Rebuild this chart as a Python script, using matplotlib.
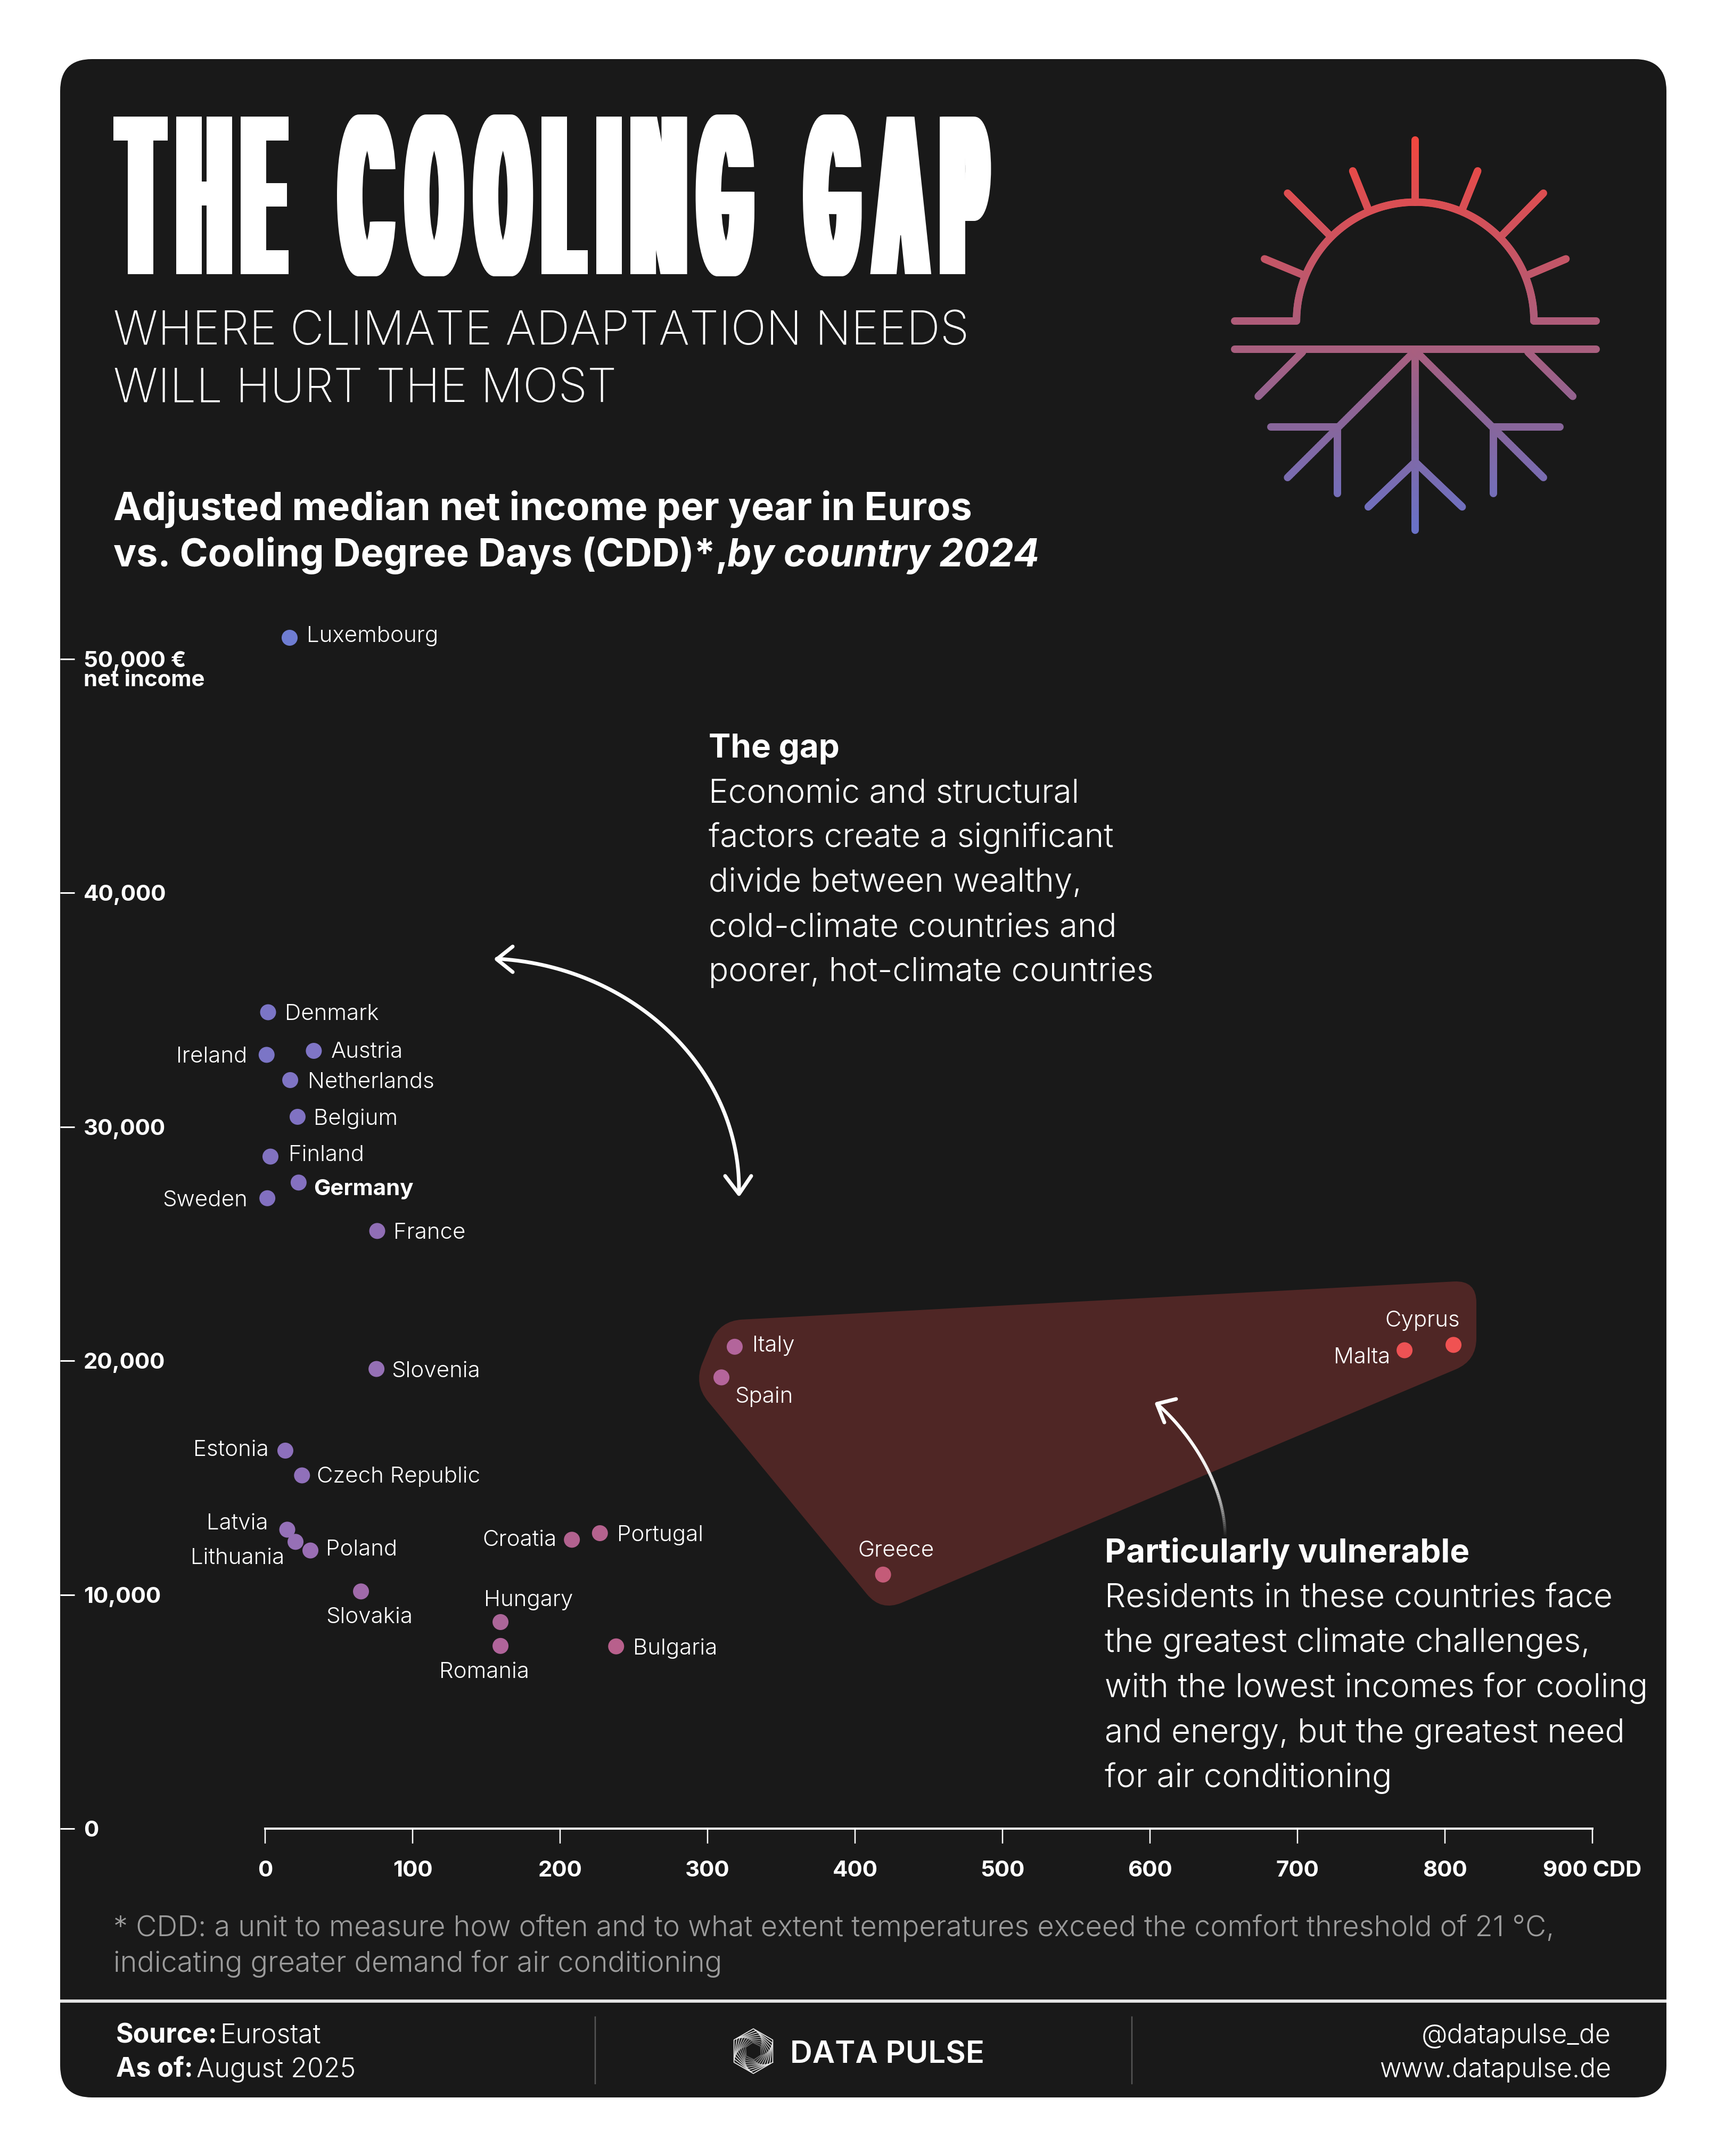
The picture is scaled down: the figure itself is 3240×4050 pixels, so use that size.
from matplotlib import pyplot as plt
from matplotlib import patheffects as pe
from matplotlib.collections import LineCollection
from matplotlib.colors import LinearSegmentedColormap
from matplotlib.patches import FancyBboxPatch, PathPatch
from matplotlib.path import Path
from matplotlib.transforms import IdentityTransform
import numpy as np

plt.rcParams['font.family'] = ['Inter', 'DejaVu Sans']

countries = ['Luxembourg', 'Denmark', 'Ireland', 'Austria', 'Netherlands', 'Belgium', 'Finland',
             'Germany', 'Sweden', 'France', 'Slovenia', 'Estonia', 'Czech Republic', 'Latvia',
             'Lithuania', 'Poland', 'Slovakia', 'Croatia', 'Portugal', 'Hungary', 'Romania',
             'Bulgaria', 'Italy', 'Spain', 'Greece', 'Malta', 'Cyprus']
cdd = [16.6, 2, 1, 33, 17, 22, 3.6, 22.7, 1.5, 76, 75.5, 13.7, 25, 15, 20.6, 30.7, 65, 208, 227,
       159.6, 159.6, 238, 318.4, 309.4, 419, 772.6, 805.8]
income = [50910, 34900, 33080, 33250, 32000, 30430, 28730, 27620, 26950, 25550, 19650, 16160, 15100,
          12780, 12260, 11890, 10140, 12350, 12630, 8830, 7810, 7790, 20600, 19290, 10860, 20450, 20680]
dot_colors = ['#6f7dd2', '#7b75c6', '#7b75c6', '#7f75c6', '#7f74c4', '#8072c2', '#8172c0',
              '#8470c0', '#8270c0', '#906eb5', '#9570b5', '#8d70bb', '#9070ba', '#9570b8',
              '#9670b6', '#9a6eb4', '#a06aaa', '#b2628f', '#b5628e', '#ac6699', '#b0649a',
              '#b8608c', '#b3659b', '#b5659b', '#c45b78', '#ee5254', '#f05252']
# label offset from the dot in px: dx, dy (down), alignment
label_place = {
    'Luxembourg': (32, -7, 'left'), 'Denmark': (31, 0, 'left'), 'Ireland': (-36, 0, 'right'),
    'Austria': (32, -2, 'left'), 'Netherlands': (33, 0, 'left'), 'Belgium': (30, 0, 'left'),
    'Finland': (34, -7, 'left'), 'Germany': (28, 9, 'left'), 'Sweden': (-37, 0, 'right'),
    'France': (30, 0, 'left'), 'Slovenia': (28, 0, 'left'), 'Estonia': (-31, -5, 'right'),
    'Czech Republic': (28, -2, 'left'), 'Latvia': (-36, -15, 'right'), 'Lithuania': (-21, 27, 'right'),
    'Poland': (29, -6, 'left'), 'Slovakia': (16, 45, 'center'), 'Croatia': (-29, -3, 'right'),
    'Portugal': (32, 0, 'left'), 'Hungary': (53, -45, 'center'), 'Romania': (-31, 45, 'center'),
    'Bulgaria': (32, 0, 'left'), 'Italy': (33, -6, 'left'), 'Spain': (25, 33, 'left'),
    'Greece': (24, -49, 'center'), 'Malta': (-27, 10, 'right'), 'Cyprus': (12, -49, 'right'),
}
xticks = [0, 100, 200, 300, 400, 500, 600, 700, 800, 900]
xlabels = ['0', '100', '200', '300', '400', '500', '600', '700', '800', '900 CDD']
yticks = [0, 10000, 20000, 30000, 40000, 50000]
ylabels = ['0', '10,000', '20,000', '30,000', '40,000', '50,000 €']

gap_text = ['Economic and structural', 'factors create a significant', 'divide between wealthy,',
            'cold-climate countries and', 'poorer, hot-climate countries']
vuln_text = ['Residents in these countries face', 'the greatest climate challenges,',
             'with the lowest incomes for cooling', 'and energy, but the greatest need',
             'for air conditioning']

BG = '#191919'
PX = 72 / 100  # px to points at dpi 100


class CondensedGlyphs(pe.AbstractPathEffect):
    # squeezes the text and thickens the stems, the poster face is not installed
    def __init__(self, sx, sy, smear, gap, word_gap):
        super().__init__()
        self.sx, self.sy, self.smear, self.gap, self.word_gap = sx, sy, smear, gap, word_gap

    def draw_path(self, renderer, gc, tpath, affine, rgbFace=None):
        v = affine.transform(tpath.vertices)
        codes = tpath.codes
        x0, y0 = affine.get_matrix()[0, 2], affine.get_matrix()[1, 2]
        starts = list(np.where(codes == Path.MOVETO)[0]) + [len(codes)]
        parts = []
        for a, b in zip(starts[:-1], starts[1:]):
            keep = codes[a:b] != Path.CLOSEPOLY
            parts.append([v[a:b][keep][:, 0].min(), v[a:b][keep][:, 0].max(), [(a, b)]])
        parts.sort(key=lambda p: p[0])
        glyphs = [parts[0]]
        for p in parts[1:]:
            if p[0] < glyphs[-1][1]:
                glyphs[-1][1] = max(glyphs[-1][1], p[1])
                glyphs[-1][2] += p[2]
            else:
                glyphs.append(p)
        cursor = x0
        last = None
        for xmin, xmax, spans in glyphs:
            if last is not None:
                cursor += self.word_gap if xmin - last > 40 else self.gap
            last = xmax
            idx = np.concatenate([np.arange(a, b) for a, b in spans])
            gv = v[idx].copy()
            gv[:, 0] = cursor + (gv[:, 0] - xmin) * self.sx
            gv[:, 1] = y0 + (gv[:, 1] - y0) * self.sy
            for dx in np.linspace(0, self.smear, 12):
                renderer.draw_path(gc, Path(gv + [dx, 0], codes[idx]), IdentityTransform(), rgbFace)
            cursor += (xmax - xmin) * self.sx + self.smear


def rounded_polygon(corners, r):
    corners = np.array(corners, float)
    verts, codes = [], []
    n = len(corners)
    for i in range(n):
        p, a, b = corners[i], corners[i - 1], corners[(i + 1) % n]
        s = p + (a - p) / np.linalg.norm(a - p) * r
        e = p + (b - p) / np.linalg.norm(b - p) * r
        verts += [s, p, e]
        codes += [Path.LINETO if i else Path.MOVETO, Path.CURVE3, Path.CURVE3]
    verts.append(verts[0])
    codes.append(Path.CLOSEPOLY)
    return Path(verts, codes)


def cubic(p0, p1, p2, p3, n=80):
    t = np.linspace(0, 1, n)[:, None]
    p0, p1, p2, p3 = map(np.array, (p0, p1, p2, p3))
    return (1 - t) ** 3 * p0 + 3 * (1 - t) ** 2 * t * p1 + 3 * (1 - t) * t ** 2 * p2 + t ** 3 * p3


fig = plt.figure(figsize=(32.4, 40.5), dpi=100, facecolor='white')

# page layer in pixel coordinates
pg = fig.add_axes([0, 0, 1, 1], zorder=0)
pg.set_xlim(0, 3240)
pg.set_ylim(4050, 0)
pg.axis('off')
pg.add_patch(FancyBboxPatch((113, 111), 3017, 3829, boxstyle='round,pad=0,rounding_size=60',
                            fc=BG, ec='none'))
pg.add_patch(PathPatch(rounded_polygon([(1352, 2481), (2773, 2405), (2773, 2556), (1655, 3027), (1303, 2600)], 42),
                       fc='#4f2625', ec='none'))


def txt(x, y, s, size, weight=300, color='white', **kw):
    return pg.text(x, y, s, fontsize=size * PX, fontweight=weight, color=color, va='baseline', **kw)


# title block
t = txt(213, 515, 'THE COOLING GAP', 190, 600)
t.set_path_effects([CondensedGlyphs(0.64, 2.14, 32, 16, 91)])
txt(213, 647, 'WHERE CLIMATE ADAPTATION NEEDS', 88, 200)
txt(213, 755, 'WILL HURT THE MOST', 88, 200)
txt(213, 977, 'Adjusted median net income per year in Euros', 72, 700)
txt(213, 1064, 'vs. Cooling Degree Days (CDD)*,', 72, 700)
txt(1366, 1064, 'by country 2024', 72, 700, style='italic')

# sun and snowflake icon
icon_cmap = LinearSegmentedColormap.from_list('icon', [(0, '#f2473f'), (0.45, '#b05c78'), (0.55, '#a85f80'),
                                                       (0.72, '#8a6598'), (1, '#6a72c8')])


def icon_line(pts):
    pts = np.array(pts, float)
    seg_t = np.linspace(0, 1, 60)[:, None]
    all_pts = np.vstack([pts[i] + (pts[i + 1] - pts[i]) * seg_t for i in range(len(pts) - 1)])
    draw_icon(all_pts)


def draw_icon(z):
    xy = np.column_stack([2250 + z[:, 0] * 0.5102, 220 + z[:, 1] * 0.5102])
    segs = np.stack([xy[:-1], xy[1:]], axis=1)
    cols = icon_cmap((z[:-1, 1] - 85) / (1520 - 85))
    pg.add_collection(LineCollection(segs, colors=cols, linewidths=14 * PX, capstyle='round'))


a = np.linspace(np.pi, 0, 200)
draw_icon(np.column_stack([800 + 437 * np.cos(a), 750 - 437 * np.sin(a)]))
for line in [[(800, 85), (800, 310)], [(570, 198), (625, 335)], [(1030, 198), (975, 335)],
             [(330, 280), (485, 435)], [(1272, 280), (1120, 435)], [(245, 522), (385, 580)],
             [(1355, 522), (1218, 580)], [(135, 750), (363, 750)], [(1237, 750), (1467, 750)],
             [(135, 855), (1467, 855)], [(800, 860), (800, 1520)], [(800, 860), (330, 1327)],
             [(800, 860), (1272, 1327)], [(385, 865), (222, 1028)], [(1215, 865), (1380, 1028)],
             [(268, 1141), (513, 1141), (513, 1385)], [(1333, 1141), (1088, 1141), (1088, 1385)],
             [(627, 1435), (800, 1270), (973, 1435)]]:
    icon_line(line)

# annotation texts
txt(1331, 1423, 'The gap', 62, 700)
for i, s in enumerate(gap_text):
    txt(1331, 1507 + i * 84, s, 62, 300)
txt(2075, 2935, 'Particularly vulnerable', 62, 700)
for i, s in enumerate(vuln_text):
    txt(2075, 3019 + i * 84.5, s, 62, 300)

# arrows
white_line = dict(color='white', lw=7 * PX, solid_capstyle='round', solid_joinstyle='round')
curve = cubic((933, 1801), (1190, 1815), (1392, 2010), (1388, 2240))
pg.plot(curve[:, 0], curve[:, 1], **white_line)
pg.plot([963, 933, 963], [1778, 1802, 1826], **white_line)
pg.plot([1362, 1388, 1411], [2209, 2243, 2209], **white_line)

curve = cubic((2173, 2637), (2235, 2690), (2301, 2790), (2301, 2885))
segs = np.stack([curve[:-1], curve[1:]], axis=1)
alpha = np.clip((curve[:-1, 1] - 2885) / (2690 - 2885), 0, 1)
cols = np.column_stack([np.ones((len(alpha), 3)), alpha])
pg.add_collection(LineCollection(segs, colors=cols, linewidths=6 * PX, capstyle='round'))
pg.plot([2209, 2173, 2187], [2628, 2637, 2672], **white_line)

# footnote and footer
txt(213, 3637, '* CDD: a unit to measure how often and to what extent temperatures exceed the comfort threshold of 21 °C,',
    54, 300, '#9c9c9c')
txt(213, 3704, 'indicating greater demand for air conditioning', 54, 300, '#9c9c9c')
pg.plot([113, 3130], [3759, 3759], color='#e4e4e4', lw=6 * PX, solid_capstyle='butt')
pg.plot([1118, 1118], [3789, 3914], color='#555555', lw=2.5 * PX)
pg.plot([2126, 2126], [3789, 3914], color='#555555', lw=2.5 * PX)
txt(218, 3838, 'Source:', 50, 700)
txt(413, 3838, 'Eurostat', 50, 300)
txt(218, 3902, 'As of:', 50, 700)
txt(369, 3902, 'August 2025', 50, 300)
txt(3026, 3838, '@datapulse_de', 50, 300, ha='right')
txt(3026, 3902, 'www.datapulse.de', 50, 300, ha='right')
txt(1484, 3875, 'DATA PULSE', 58, 600)

# logo mark: nested hexagons
for i in range(9):
    ang = np.radians(30 + np.arange(7) * 60 + i * 7)
    r = 42 - i * 3.2
    pg.plot(1415 + r * np.cos(ang), 3853 + r * np.sin(ang), color='white',
            alpha=0.9 - i * 0.07, lw=1.8 * PX)

# chart
x0_px, x900_px, y0_px, y50k_px = 498, 2991, 3435, 1238
x_scale = (x900_px - x0_px) / 900
y_scale = (y0_px - y50k_px) / 50000
top_px, left_px = 1000, 113
ax = fig.add_axes([left_px / 3240, 1 - y0_px / 4050, (x900_px - left_px) / 3240, (y0_px - top_px) / 4050], zorder=1)
ax.patch.set_alpha(0)
ax.set_xlim(-(x0_px - left_px) / x_scale, 900)
ax.set_ylim(0, (y0_px - top_px) / y_scale)

ax.scatter(cdd, income, s=(30 * PX) ** 2, c=dot_colors, linewidths=0, zorder=3, clip_on=False)
for name, x, y in zip(countries, cdd, income):
    dx, dy, ha = label_place[name]
    ax.annotate(name, (x, y), xytext=(dx, -dy - 15), textcoords='offset pixels', ha=ha, va='baseline',
                color='white', fontsize=42 * PX, fontweight=700 if name == 'Germany' else 300)

for side in ['top', 'left', 'right']:
    ax.spines[side].set_visible(False)
ax.spines['bottom'].set_bounds(0, 900)
ax.spines['bottom'].set_linewidth(4 * PX)
ax.spines['bottom'].set_color('white')
ax.set_xticks(xticks, xlabels)
ax.set_yticks(yticks, ylabels)
ax.tick_params(axis='x', colors='white', length=28 * PX, width=2.5 * PX, pad=32 * PX, labelsize=42 * PX)
ax.tick_params(axis='y', colors='white', direction='in', length=27 * PX, width=3 * PX, pad=-44 * PX, labelsize=42 * PX)
for lab in ax.get_yticklabels():
    lab.set_horizontalalignment('left')
    lab.set_fontweight(700)
for lab in ax.get_xticklabels():
    lab.set_fontweight(700)
ax.text(-(x0_px - 157) / x_scale, 49100, 'net income', color='white', fontsize=42 * PX, fontweight=700, va='center')

fig.savefig('out.png', dpi=100, facecolor='white')
